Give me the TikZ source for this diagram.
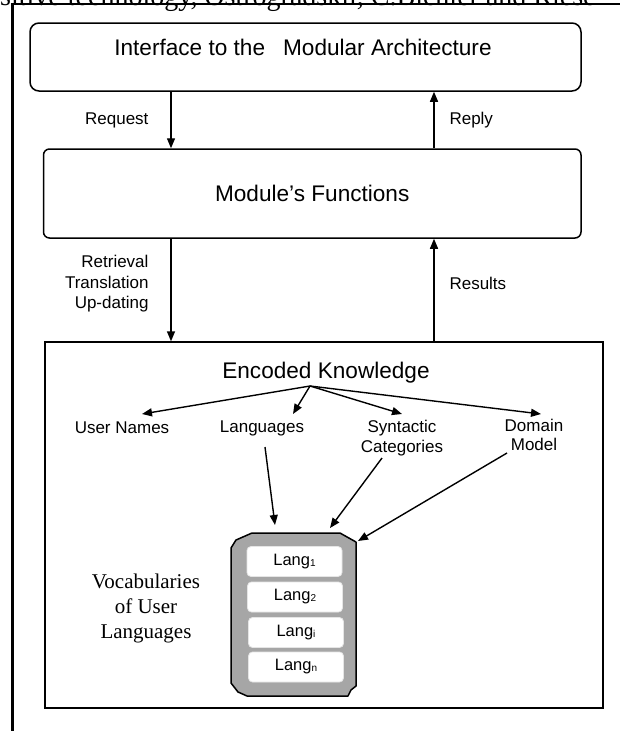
\documentclass[tikz,border=0pt]{standalone}
\usepackage{fontspec}
\setmainfont{Liberation Sans}
\newfontfamily\seriffont{Liberation Serif}
\usetikzlibrary{arrows.meta}
\definecolor{stackgray}{RGB}{166,166,166}
\newcommand\lsub[1]{\raisebox{-1pt}{\fontsize{10}{10}\selectfont #1}}
\tikzset{
 conn/.style={line width=1.4pt, -{Triangle[length=10pt,width=8pt]}},
 boxline/.style={line width=1.5pt},
 title/.style={font=\fontsize{22.6}{26}\selectfont},
 lbl/.style={font=\fontsize{17}{20.5}\selectfont},
 langbox/.style={fill=white, draw=white!90!black, line width=0.8pt, rounded corners=4pt, minimum width=95pt, minimum height=30pt, inner sep=0pt, font=\fontsize{16.5}{18}\selectfont},
}
\begin{document}
\begin{tikzpicture}[x=1pt,y=-1pt]
\useasboundingbox (0,0) rectangle (620,731);
\begin{scope}
\clip (0,0) rectangle (620,731);
\node[anchor=base west, inner sep=0pt, font=\seriffont\fontsize{28}{30}\selectfont] (toptext) at (0,5) {sitive technology, Ostrogradskii, C.Bichler and Riese};
\end{scope}
\draw[line width=2.5pt] (12,4) -- (620,4);
\draw[line width=3pt] (12.5,3) -- (12.5,731);

\coordinate (xl) at (171,0);
\coordinate (xr) at (434,0);

% boxes
\node[draw, boxline, rounded corners=9pt, minimum width=551pt, minimum height=68pt, inner sep=0pt] (iface) at (305.5,57) {};
\node[title] (ifacet) at (303,47) {Interface to the\hspace{18pt}Modular Architecture};
\node[draw, boxline, rounded corners=6pt, minimum width=537.5pt, minimum height=89pt, inner sep=0pt, title] (func) at (312.25,193.5) {Module’s Functions};
\node[draw, line width=1.4pt, minimum width=558pt, minimum height=366pt, inner sep=0pt] (kb) at (324,525) {};

% vertical connectors
\draw[conn] (iface.south -| xl) -- (func.north -| xl);
\draw[conn] (func.north -| xr) -- (iface.south -| xr);
\draw[conn] (func.south -| xl) -- (kb.north -| xl);
\draw[conn] (kb.north -| xr) -- (func.south -| xr);

\node[lbl, anchor=east] (request) at (152,120) {Request};
\node[lbl, anchor=west] (reply) at (446,120) {Reply};
\node[lbl, anchor=east, align=right] (rtu) at (152,284) {Retrieval\\Translation\\Up-dating};
\node[lbl, anchor=west] (results) at (446,283) {Results};

% encoded knowledge
\node[title] (ek) at (326,373) {Encoded Knowledge};
\coordinate (fan) at (310,386);
\coordinate (tUN) at (142,414);
\coordinate (tLA) at (293,414);
\coordinate (tSY) at (402,414);
\coordinate (tDM) at (541,414);
\draw[conn] (fan) -- (tUN);
\draw[conn] (fan) -- (tLA);
\draw[conn] (fan) -- (tSY);
\draw[conn] (fan) -- (tDM);

\node[lbl] (un) at (122,428) {User Names};
\node[lbl] (lang) at (262,428) {Languages};
\node[lbl, align=center, font=\fontsize{17}{20}\selectfont] (syn) at (402,438.5) {Syntactic\\Categories};
\node[lbl, align=center, font=\fontsize{17}{19}\selectfont] (dm) at (534,435) {Domain\\Model};

% stack
\draw[fill=stackgray, line width=1.5pt, line join=round]
 (252,533) -- (340,533) -- (356,542) -- (356,686) -- (351,690) -- (348,696)
 -- (247,696) -- (238,692) -- (231,683) -- (231,548) -- (236,540) -- cycle;
\node[langbox] (l1) at (294.5,561.5) {Lang\lsub{1}};
\node[langbox] (l2) at (295,597) {Lang\lsub{2}};
\node[langbox] (li) at (296,632.5) {Lang\lsub{i}};
\node[langbox] (ln) at (296,667) {Lang\lsub{n}};

\coordinate (sLA) at (265,447);
\coordinate (sSY) at (382,458);
\coordinate (sDM) at (507,453);
\coordinate (eLA) at (275,525);
\coordinate (eSY) at (330,528);
\coordinate (eDM) at (358,541);
\draw[conn] (sLA) -- (eLA);
\draw[conn] (sSY) -- (eSY);
\draw[conn] (sDM) -- (eDM);

\node[font=\seriffont\fontsize{21}{25}\selectfont, align=center] (vocab) at (146,608) {Vocabularies\\of User\\Languages};
\end{tikzpicture}
\end{document}
